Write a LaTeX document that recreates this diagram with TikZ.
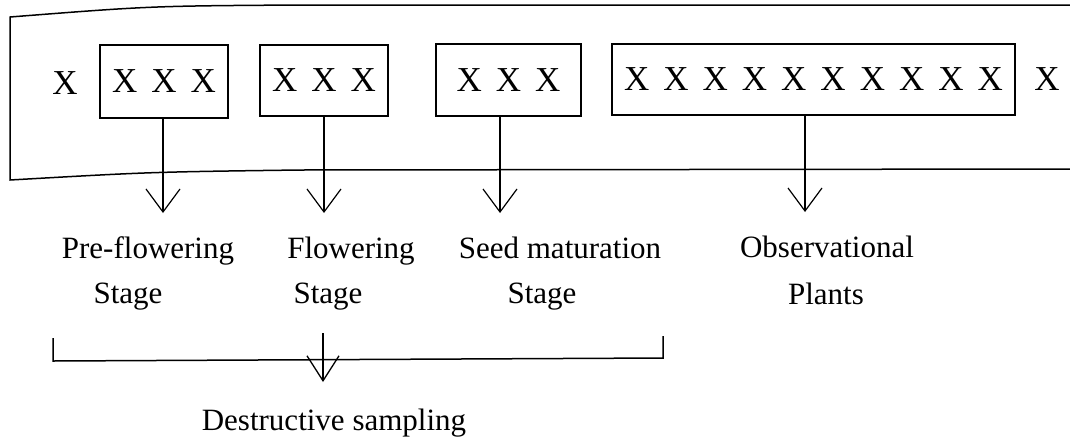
\documentclass[tikz,border=0pt]{standalone}
\usepackage{fontspec}
\setmainfont{Liberation Serif}
\usetikzlibrary{arrows.meta}
\begin{document}
\begin{tikzpicture}[x=1pt,y=-1pt,
  xbox/.style={draw,line width=1.3pt,inner sep=0pt,font=\fontsize{35}{38}\selectfont},
  xtext/.style={inner sep=0pt,font=\fontsize{35}{38}\selectfont},
  lbl/.style={inner sep=0pt,anchor=base,font=\fontsize{31}{36}\selectfont},
  arr/.style={line width=1.2pt,-{Straight Barb[length=23pt,width=34pt,line width=1.2pt]}}]
\useasboundingbox (0,0) rectangle (1070,437);
\newcommand{\gapx}{\hspace{14pt}}
% outer frame (open on the right)
\draw[line width=1.5pt] (1070,5) -- (300,5) .. controls (150,6) .. (10,17)
  -- (10,180) .. controls (150,172) .. (300,170) -- (1070,169);
% single plants
\node[xtext] (xl) at (65,83) {X};
\node[xtext] (xr) at (1047,79) {X};
% boxes
\node[xbox,minimum width=128pt,minimum height=73pt] (b1) at (164,81.5) {X\gapx X\gapx X};
\node[xbox,minimum width=128pt,minimum height=71pt] (b2) at (324,80.5) {X\gapx X\gapx X};
\node[xbox,minimum width=145pt,minimum height=72pt] (b3) at (508.5,80) {X\gapx X\gapx X};
\node[xbox,minimum width=403pt,minimum height=71pt] (b4) at (813.5,79.5) {X\gapx X\gapx X\gapx X\gapx X\gapx X\gapx X\gapx X\gapx X\gapx X};
% arrow tips
\coordinate (t1) at (163,213);
\coordinate (t2) at (324,213);
\coordinate (t3) at (500,213);
\coordinate (t4) at (805,212);
\draw[arr] (b1.south -| t1) -- (t1);
\draw[arr] (b2.south -| t2) -- (t2);
\draw[arr] (b3.south -| t3) -- (t3);
\draw[arr] (b4.south -| t4) -- (t4);
% labels
\node[lbl] (l1) at (148,258) {Pre-flowering};
\node[lbl] (s1) at (128,303) {Stage};
\node[lbl] (l2) at (351,258) {Flowering};
\node[lbl] (s2) at (328,303) {Stage};
\node[lbl] (l3) at (560,258) {Seed maturation};
\node[lbl] (s3) at (542,303) {Stage};
\node[lbl] (l4) at (827,257) {Observational};
\node[lbl] (s4) at (826,304) {Plants};
% bracket
\coordinate (bl) at (53,338);
\coordinate (br) at (663,336);
\draw[line width=1.5pt] (bl) -- (53,361) -- (663,358) -- (br);
\node[lbl] (ds) at (334,430) {Destructive sampling};
\coordinate (bc) at (323,333);
\coordinate (bt) at (323,382);
\draw[line width=1.2pt,-{Straight Barb[length=25pt,width=32pt,line width=1.3pt]}] (bc) -- (bt);
\end{tikzpicture}
\end{document}
